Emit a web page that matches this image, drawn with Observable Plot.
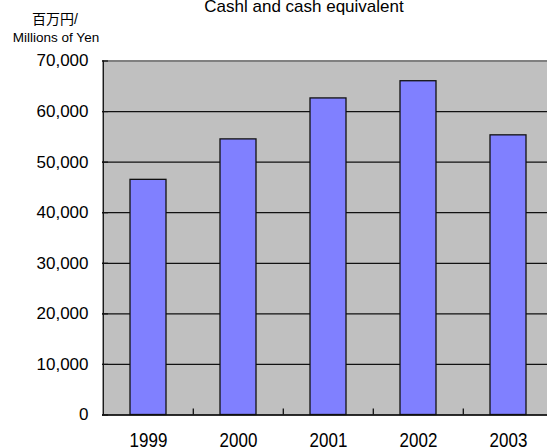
<!DOCTYPE html>
<html>
<head>
<meta charset="utf-8">
<script src="https://cdn.jsdelivr.net/npm/d3@7"></script>
<script src="https://cdn.jsdelivr.net/npm/@observablehq/plot@0.6"></script>
<style>
  html, body { margin: 0; padding: 0; background: #fff; overflow: hidden; }
  #chart { position: relative; width: 547px; height: 448px; }
  svg { font-family: "Liberation Sans", Arial, "Noto Sans CJK JP", sans-serif; }
</style>
</head>
<body>
<div id="chart"></div>
<script>
const years = ["1999", "2000", "2001", "2002", "2003"];
const cash = [46500, 54500, 62600, 66000, 55300];
const yTicks = [0, 10000, 20000, 30000, 40000, 50000, 60000, 70000];
const title = "Cashl and cash equivalent";
const unitJa = "百万円/";
const unitEn = "Millions of Yen";

const data = years.map((y, i) => ({year: y, value: cash[i]}));

const W = 547, H = 448;
const mL = 102, mR = -7, mT = 60.5, mB = 33.5;
const step = (W - mR - mL) / years.length;
const plotH = H - mT - mB;
const plotW = W - mR - mL;

const chart = Plot.plot({
  width: W,
  height: H,
  marginLeft: mL,
  marginRight: mR,
  marginTop: mT,
  marginBottom: mB,
  style: {background: "transparent", overflow: "visible"},
  x: {domain: years, paddingInner: 0.6, paddingOuter: 0.3, label: null},
  y: {domain: [0, 70000], label: null},
  marks: [
    Plot.frame({fill: "#c0c0c0", stroke: "none"}),
    Plot.gridY(yTicks, {stroke: "#111", strokeOpacity: 1, strokeWidth: 1.2}),
    Plot.ruleY([70000], {stroke: "#808080", strokeWidth: 2.2}),
    Plot.ruleY(yTicks, {stroke: "#111", strokeWidth: 1.2, insetRight: plotW - 6}),
    Plot.barY(data, {x: "year", y: "value", fill: "#8080ff", stroke: "#111", strokeWidth: 1.3}),
    Plot.ruleX([years[0]], {x: d => d, dx: -step / 2, stroke: "#111", strokeWidth: 1.3}),
    Plot.ruleX(years.slice(1), {x: d => d, dx: -step / 2, stroke: "#111", strokeWidth: 1.3, insetTop: plotH - 6}),
    Plot.ruleY([0], {stroke: "#111", strokeWidth: 1.5}),
    Plot.axisY(yTicks, {tickSize: 0, tickPadding: 14, fontSize: 17, fill: "#000", tickFormat: d3.format(","), label: null}),
    Plot.axisX({tickSize: 0, tickPadding: 19, fontSize: 17, fill: "#000", label: null})
  ]
});

document.getElementById("chart").appendChild(chart);
const svg = d3.select(chart);
// the reference's year labels are drawn vertically stretched: scale about each label's centre
svg.selectAll("g[aria-label='x-axis tick label'] text").each(function() {
  const b = this.getBBox();
  const cy = b.y + b.height / 2;
  const t = this.getAttribute("transform") || "";
  this.setAttribute("transform", `${t} translate(0,${cy}) scale(1,1.2) translate(0,${-cy})`);
});
svg.append("text").attr("x", 304).attr("y", 12).attr("text-anchor", "middle")
  .attr("font-size", 17).attr("fill", "#000").text(title);
svg.append("text").attr("x", 55).attr("y", 24).attr("text-anchor", "middle")
  .attr("font-size", 14).attr("fill", "#000").text(unitJa);
svg.append("text").attr("x", 56).attr("y", 41.7).attr("text-anchor", "middle")
  .attr("font-size", 13.5).attr("fill", "#000").text(unitEn);
</script>
</body>
</html>
